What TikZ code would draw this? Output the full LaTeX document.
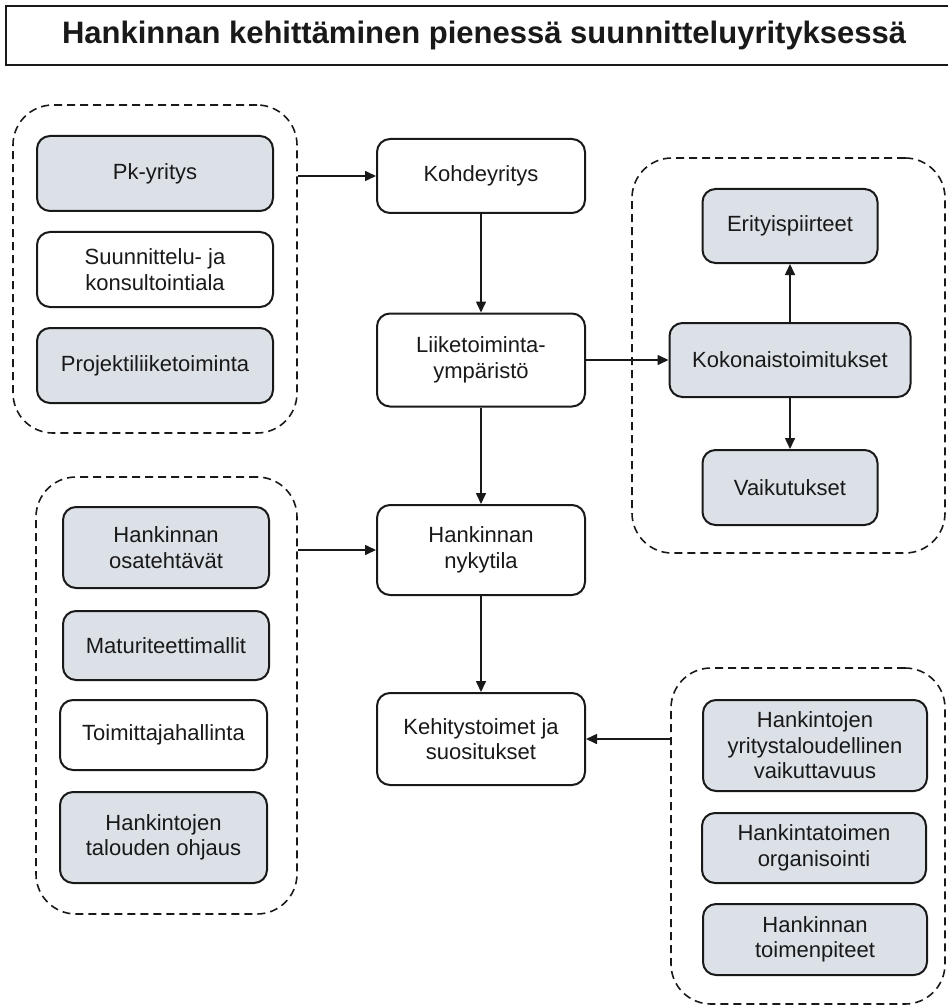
\documentclass[tikz,border=0pt]{standalone}
\usepackage{fontspec}
\setmainfont{Liberation Sans}
\usetikzlibrary{arrows.meta}
\definecolor{boxfill}{RGB}{220,225,232}
\definecolor{ink}{RGB}{25,25,25}

\begin{document}
\begin{tikzpicture}[x=1pt,y=-1pt,
  box/.style={draw=ink, line width=2pt, rounded corners=13pt, align=center,
              inner sep=2pt, font=\fontsize{22}{25.5}\selectfont, text=ink},
  shaded/.style={box, fill=boxfill},
  plain/.style={box, fill=white},
  group/.style={draw=ink, line width=1.6pt, dash pattern=on 8pt off 5pt,
                rounded corners=40pt, inner sep=0pt},
  arr/.style={draw=ink, line width=1.6pt, -{Triangle[length=11pt,width=10pt]}},
  titlebox/.style={draw=ink, line width=2.2pt, inner sep=0pt,
                   font=\fontsize{31}{36}\selectfont\bfseries, text=ink}
]
\useasboundingbox (0,0) rectangle (947,1008);

% heading
\node[titlebox, anchor=north west, minimum width=956pt, minimum height=59pt]
  (title) at (5,5) {Hankinnan kehittäminen pienessä suunnitteluyrityksessä};

% dashed groupings
\node[group, minimum width=284pt, minimum height=328pt] (g1) at (155,269) {};
\node[group, minimum width=313pt, minimum height=395pt] (g2) at (788.5,355.5) {};
\node[group, minimum width=261pt, minimum height=437pt] (g3) at (166.5,695.5) {};
\node[group, minimum width=274pt, minimum height=336pt] (g4) at (808,836) {};

% left upper group
\node[shaded, minimum width=236pt, minimum height=75pt] (pk) at (155,173.5) {Pk-yritys};
\node[plain, minimum width=236pt, minimum height=75pt] (ala) at (155,269.5) {Suunnittelu- ja\\konsultointiala};
\node[shaded, minimum width=236pt, minimum height=75pt] (proj) at (155,365.5) {Projektiliiketoiminta};

% main column
\node[plain, minimum width=208pt, minimum height=74pt] (koh) at (481,176) {Kohdeyritys};
\node[plain, minimum width=208pt, minimum height=93pt] (liike) at (481,360) {Liiketoiminta-\\ympäristö};
\node[plain, minimum width=208pt, minimum height=90pt] (nyky) at (481,550) {Hankinnan\\nykytila};
\node[plain, minimum width=208pt, minimum height=92pt] (kehi) at (481,739) {Kehitystoimet ja\\suositukset};

% right upper group
\node[shaded, minimum width=175pt, minimum height=74pt] (erit) at (790,226) {Erityispiirteet};
\node[shaded, minimum width=241pt, minimum height=74pt] (koko) at (790,360) {Kokonaistoimitukset};
\node[shaded, minimum width=175pt, minimum height=75pt] (vaik) at (790,487.5) {Vaikutukset};

% left lower group
\node[shaded, minimum width=206pt, minimum height=81pt] (osa) at (166,547.5) {Hankinnan\\osatehtävät};
\node[shaded, minimum width=206pt, minimum height=69pt] (mat) at (166,645.5) {Maturiteettimallit};
\node[plain, minimum width=207pt, minimum height=70pt] (toim) at (163.5,735) {Toimittajahallinta};
\node[shaded, minimum width=207pt, minimum height=91pt] (talo) at (163.5,837.5) {Hankintojen\\talouden ohjaus};

% right lower group
\node[shaded, minimum width=224pt, minimum height=91pt] (vaikut) at (815,745.5) {Hankintojen\\yritystaloudellinen\\vaikuttavuus};
\node[shaded, minimum width=224pt, minimum height=70pt] (org) at (814,848) {Hankintatoimen\\organisointi};
\node[shaded, minimum width=224pt, minimum height=71pt] (tp) at (815,939.5) {Hankinnan\\toimenpiteet};

% connectors
\draw[arr] (g1.east |- koh.west) -- (koh.west);
\draw[arr] (koh.south) -- (liike.north);
\draw[arr] (liike.east) -- (koko.west);
\draw[arr] (koko.north) -- (erit.south);
\draw[arr] (koko.south) -- (vaik.north);
\draw[arr] (liike.south) -- (nyky.north);
\draw[arr] (g3.east |- nyky.west) -- (nyky.west);
\draw[arr] (nyky.south) -- (kehi.north);
\draw[arr] (g4.west |- kehi.east) -- (kehi.east);
\end{tikzpicture}
\end{document}
